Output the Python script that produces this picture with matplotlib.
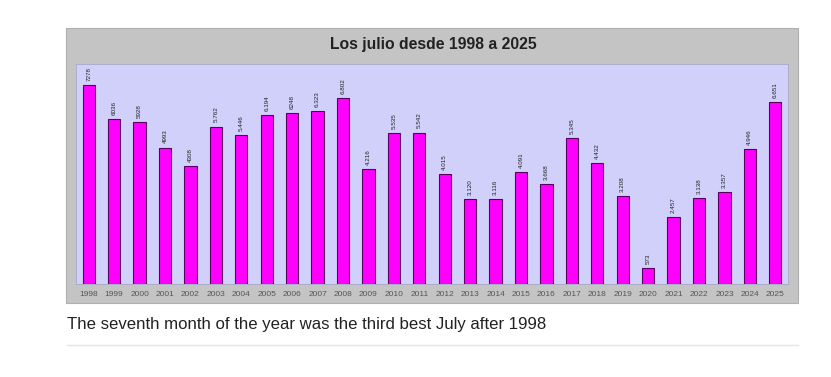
import matplotlib.pyplot as plt
from matplotlib.patches import Rectangle
from matplotlib.lines import Line2D

years = [str(y) for y in range(1998, 2026)]
values = [7278, 6036, 5928, 4993, 4308, 5762, 5446, 6194, 6248, 6323,
          6802, 4216, 5535, 5542, 4015, 3120, 3116, 4091, 3668, 5345,
          4432, 3208, 573, 2457, 3138, 3357, 4946, 6651]
labels = ['7278', '6036', '5928', '4993', '4308', '5.762', '5.446', '6.194',
          '6248', '6.323', '6.802', '4.216', '5.535', '5.542', '4.015',
          '3.120', '3.116', '4.091', '3.668', '5.345', '4.432', '3.208',
          '573', '2.457', '3.138', '3.357', '4.946', '6.651']

plt.rcParams['font.family'] = ['Liberation Sans', 'DejaVu Sans']

W, H = 831, 377
fig = plt.figure(figsize=(W / 100, H / 100), dpi=100)
fig.patch.set_facecolor('white')

# gray chart panel
fig.add_artist(Rectangle((66 / W, 1 - 303 / H), (798 - 66) / W, (303 - 28) / H,
                         transform=fig.transFigure, facecolor='#c4c4c4',
                         edgecolor='#b0b0b0', linewidth=0.8, zorder=0))

ax = fig.add_axes([76 / W, 1 - 284 / H, (788 - 76) / W, (284 - 64) / H])
ax.set_facecolor('#d0d0fa')
x = list(range(len(years)))
ax.bar(x, values, width=0.48, color='#ff00ff', edgecolor='#5a0060', linewidth=0.8)
for xi, v, lab in zip(x, values, labels):
    ax.text(xi, v + 150, lab, rotation=90, ha='center', va='bottom',
            fontsize=4.5, color='#222222')
ax.set_xlim(-0.5, 27.5)
ax.set_ylim(0, 8050)
ax.set_yticks([])
ax.set_xticks(x)
ax.set_xticklabels(years, fontsize=6, color='#555555')
ax.tick_params(axis='x', length=0, pad=5)
for s in ax.spines.values():
    s.set_color('#a8a8c8')
    s.set_linewidth(0.6)

fig.text(433 / W, 1 - 45 / H, 'Los julio desde 1998 a 2025', ha='center', va='center',
         fontsize=11.3, fontweight='bold', color='#222222')

fig.text(67 / W, 1 - 325 / H, 'The seventh month of the year was the third best July after 1998',
         ha='left', va='center', fontsize=12.1, color='#222222')

fig.add_artist(Line2D([67 / W, 798 / W], [1 - 345 / H, 1 - 345 / H],
                      transform=fig.transFigure, color='#e4e4e4', linewidth=1))

fig.savefig('out.png', dpi=100)
